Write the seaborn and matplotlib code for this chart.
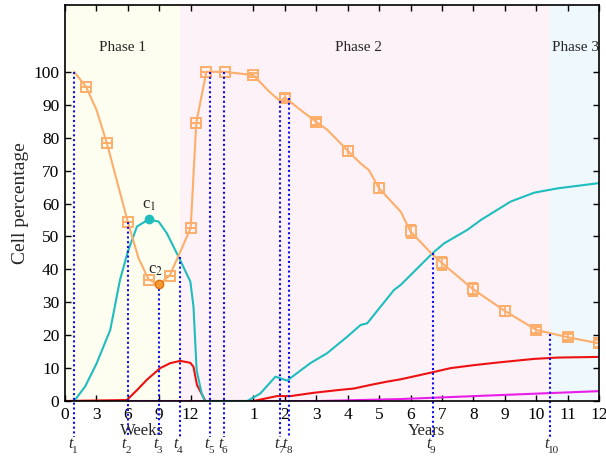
import numpy as np, pandas as pd
import matplotlib; matplotlib.use("Agg")
import matplotlib.pyplot as plt
import seaborn as sns

sns.set_theme(style="ticks")
plt.rcParams["font.family"] = ["Liberation Serif", "DejaVu Serif"]
plt.rcParams["mathtext.fontset"] = "stix"

# x is in axis units: 0-4 -> weeks 0..12 (3 weeks/unit), 6-17 -> years 1..12
XT_POS = [0, 1, 2, 3, 4, 6, 7, 8, 9, 10, 11, 12, 13, 14, 15, 16, 17]
XT_LAB = ["0", "3", "6", "9", "12", "1", "2", "3", "4", "5", "6", "7", "8", "9", "10", "11", "12"]

# ---------- curves ----------
orange_x = [0.29, 0.667, 1.0, 1.333, 2.0, 2.34, 2.667, 3.0, 3.333, 4.0, 4.18, 4.5, 5.08, 6.0, 6.5, 6.86,
            7.0, 7.5, 8.0, 8.35, 8.67, 9.0, 9.41, 9.67, 10.0, 10.69, 11.0, 11.7, 12.0, 13.0, 14.0, 15.0, 16.0, 17.0]
orange_y = [100, 95.5, 88.5, 78.3, 54.4, 43.4, 36.8, 35.5, 38.1, 52.5, 84.6, 100, 100, 99, 94, 91,
            92.2, 88.4, 84.8, 82.4, 79.3, 76, 72.2, 70.2, 64.6, 57.5, 51.5, 44.5, 41.9, 33.9, 27.4, 21.6, 19.4, 17.5]

teal_x = [0.29, 0.64, 1.01, 1.44, 1.75, 2.0, 2.29, 2.667, 2.98, 3.24, 3.61, 3.99, 4.09, 4.19, 4.35, 4.45,
          5.8, 6.22, 6.70, 7.07, 7.81, 8.34, 8.98, 9.41, 9.62, 10.05, 10.47, 10.69, 11.7, 12.07, 12.81,
          13.24, 14.19, 14.94, 15.68, 17.0]
teal_y = [0, 4.4, 11.5, 21.6, 36.8, 45.4, 53, 55.2, 54.5, 51, 43.9, 36.3, 28.7, 9.4, 2.3, 0,
          0, 2.3, 7.4, 6.2, 11.5, 14.5, 19.5, 23.1, 23.6, 28.7, 33.7, 35.3, 44.9, 47.9, 52,
          55, 60.6, 63.3, 64.6, 66.2]

red_x = [0, 1.97, 2.29, 2.60, 3.03, 3.35, 3.67, 3.99, 4.09, 4.20, 4.47, 6.0, 6.75, 7.18, 7.92, 8.67,
         9.20, 9.73, 10.26, 10.69, 11.64, 12.28, 13.02, 13.88, 14.94, 15.68, 17.0]
red_y = [0, 0.3, 3.3, 6.4, 10, 11.5, 12.2, 11.6, 10.4, 4.9, 0, 0, 1.5, 1.5, 2.5, 3.3,
         3.8, 4.9, 5.9, 6.6, 8.6, 10.0, 10.9, 11.8, 12.8, 13.2, 13.4]

mag_x = [0, 8.1, 10.69, 17.0]
mag_y = [0, 0, 0.6, 3.0]

# ---------- measured points (squares) ----------
sq_x = [0.667, 1.333, 2.0, 2.667, 3.333, 4.0, 4.18, 4.5, 5.08, 6, 7, 8, 9, 10, 11, 12, 13, 14, 15, 16, 17]
sq_y = [95.5, 78.3, 54.4, 36.8, 38.1, 52.5, 84.6, 100, 100, 99, 92.2, 84.8, 76, 64.6, 51.5, 41.9,
        33.9, 27.4, 21.6, 19.4, 17.5]
sq_err = [0, 0, 0, 0, 0, 0, 0, 0, 0, 0.5, 1, 1, 1.5, 1.5, 2, 2, 2, 1.5, 1, 1, 1]

# ---------- time markers ----------
t_x = [0.30, 2.0, 3.0, 3.65, 4.63, 5.07, 6.86, 7.13, 11.7, 15.45]
t_top = [100, 54.4, 35.5, 43.6, 100, 100, 91, 92, 44.9, 20.4]
t_num = [str(i) for i in range(1, 11)]

phase_edges = [0, 3.65, 15.45, 17]
phase_cols = ["#fdfdf0", "#fdf2f7", "#eff8fc"]
phase_names = ["Phase 1", "Phase 2", "Phase 3"]

ORANGE, TEAL, RED, MAG = "#fdae6b", "#1fbdbd", "#ee1111", "#e81ee8"

fig = plt.figure(figsize=(6.06, 4.57), dpi=100)
ax = fig.add_axes([0.1073, 0.1225, 0.8811, 0.8665])

for i, c in enumerate(phase_cols):
    ax.axvspan(phase_edges[i], phase_edges[i + 1], color=c, lw=0, zorder=0)
ax.text(1.82, 107.3, phase_names[0], ha="center", va="center", fontsize=11)
ax.text(9.34, 107.3, phase_names[1], ha="center", va="center", fontsize=11)
ax.text(15.5, 107.3, phase_names[2], ha="left", va="center", fontsize=11, zorder=1)

sns.lineplot(x=mag_x, y=mag_y, color=MAG, lw=1.5, ax=ax, zorder=3)
sns.lineplot(x=red_x, y=red_y, color=RED, lw=1.5, ax=ax, zorder=3)
sns.lineplot(x=teal_x, y=teal_y, color=TEAL, lw=1.5, ax=ax, zorder=3)
sns.lineplot(x=orange_x, y=orange_y, color=ORANGE, lw=1.5, ax=ax, zorder=4)
ax.errorbar(sq_x, sq_y, yerr=sq_err, fmt="s", ms=7.5, mfc="none", mec=ORANGE, mew=1.4,
            ecolor=ORANGE, elinewidth=1.2, capsize=3.5, capthick=1.2, zorder=5)

for x, top, n in zip(t_x, t_top, t_num):
    ax.plot([x, x], [top, -11], ls=(0, (1, 1.3)), color="#1010ee", lw=1.5, clip_on=False, zorder=6)
    ax.text(x - 0.06, -10.6, "t", ha="right", va="top", fontsize=11.5, style="italic", clip_on=False)
    ax.text(x - 0.08, -15.0, n, ha="left", va="center", fontsize=8, clip_on=False)

# critical points
ax.plot(2.667, 55.2, "o", color=TEAL, ms=6, zorder=7)
ax.text(2.667, 59.6, "c$_1$", ha="center", va="center", fontsize=12)
ax.plot(3.0, 35.5, "o", color="#f59a30", mec="#e07010", ms=6, zorder=7)
ax.text(2.87, 39.8, "c$_2$", ha="center", va="center", fontsize=12)

ax.set_xlim(0, 17)
ax.set_ylim(0, 120.3)
ax.set_xticks(XT_POS)
ax.set_xticklabels(XT_LAB)
ax.set_yticks(range(0, 101, 10))
ax.tick_params(direction="in", length=4, width=1, top=True, right=True, labelsize=12.5, pad=4, colors="black")
for s in ax.spines.values():
    s.set_linewidth(1.2)
    s.set_color("black")
    s.set_zorder(10)
ax.set_ylabel("Cell percentage", fontsize=14, labelpad=3)
ax.text(2.45, -9, "Weeks", ha="center", va="center", fontsize=12)
ax.text(11.5, -9, "Years", ha="center", va="center", fontsize=12)

fig.savefig("out.png", dpi=100, facecolor="white")
